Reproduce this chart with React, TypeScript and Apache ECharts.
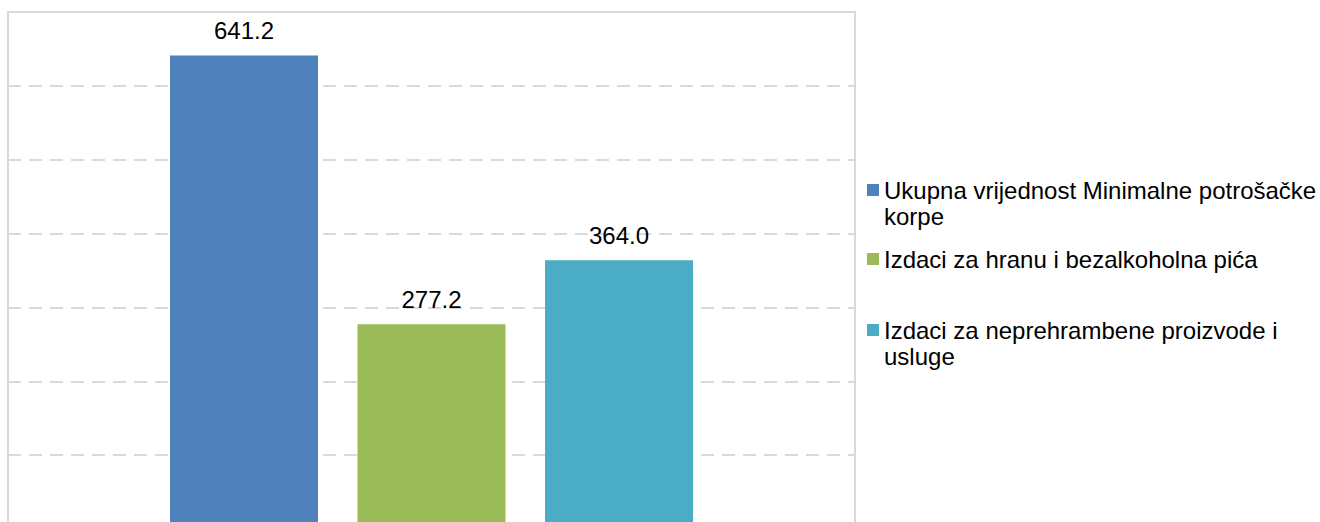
import React, { useEffect, useRef } from "react";
import * as echarts from "echarts";

const categories = [""];
const seriesNames = [
  "Ukupna vrijednost Minimalne potrošačke korpe",
  "Izdaci za hranu i bezalkoholna pića",
  "Izdaci za neprehrambene proizvode i usluge",
];
const legendLines = [
  "Ukupna vrijednost Minimalne potrošačke\nkorpe",
  "Izdaci za hranu i bezalkoholna pića",
  "Izdaci za neprehrambene proizvode i\nusluge",
];
const seriesValues = [641.2, 277.2, 364.0];
const seriesColors = ["#4F81BD", "#9BBB59", "#4BACC6"];
const legendCenters = [190, 259, 330];

const FONT = "'Liberation Sans', Arial, sans-serif";

export default function App() {
  const ref = useRef<HTMLDivElement>(null);
  useEffect(() => {
    if (!ref.current) return;
    const chart = echarts.init(ref.current, null, { renderer: "svg" });
    const series = seriesNames.map((name, i) => ({
      name,
      type: "bar",
      data: [seriesValues[i]],
      barWidth: 148,
      barGap: "26.7%",
      itemStyle: { color: seriesColors[i] },
      label: {
        show: true,
        position: "top",
        distance: 13,
        color: "#000",
        fontSize: 24,
        fontFamily: FONT,
        formatter: (p: any) => Number(p.value).toFixed(1),
      },
    }));
    const legendGraphics: any[] = [];
    legendLines.forEach((txt, i) => {
      const c = legendCenters[i];
      legendGraphics.push({
        type: "rect",
        shape: { x: 867, y: c - 6, width: 12, height: 12 },
        style: { fill: seriesColors[i] },
        z: 10,
      });
      legendGraphics.push({
        type: "text",
        x: 884,
        y: c - 13,
        style: {
          text: txt,
          fill: "#000",
          font: `24px ${FONT}`,
          lineHeight: 26,
          verticalAlign: "top",
          align: "left",
        },
        z: 10,
      });
    });
    chart.setOption({
      animation: false,
      backgroundColor: "#fff",
      grid: { left: 8, top: 12, width: 847, height: 517, containLabel: false },
      xAxis: {
        type: "category",
        data: categories,
        axisLine: { show: false },
        axisTick: { show: false },
        axisLabel: { show: false },
        splitLine: { show: false },
      },
      yAxis: {
        type: "value",
        min: 0,
        max: 700,
        interval: 100,
        axisLine: { show: false },
        axisTick: { show: false },
        axisLabel: { show: false },
        splitLine: {
          show: true,
          lineStyle: { color: "#d9d9d9", width: 2, type: [13, 8] },
        },
      },
      legend: { show: false },
      series: series as any,
      graphic: [
        {
          type: "rect",
          shape: { x: 8, y: 12, width: 847, height: 600 },
          style: { fill: "none", stroke: "#d9d9d9", lineWidth: 2 },
          z: 5,
          silent: true,
        },
        ...legendGraphics,
      ],
    });
    return () => chart.dispose();
  }, []);
  return (
    <div
      style={{
        position: "fixed",
        left: 0,
        top: 0,
        width: 1320,
        height: 522,
        overflow: "hidden",
        background: "#fff",
      }}
    >
      <div ref={ref} style={{ width: 1320, height: 545 }} />
    </div>
  );
}
